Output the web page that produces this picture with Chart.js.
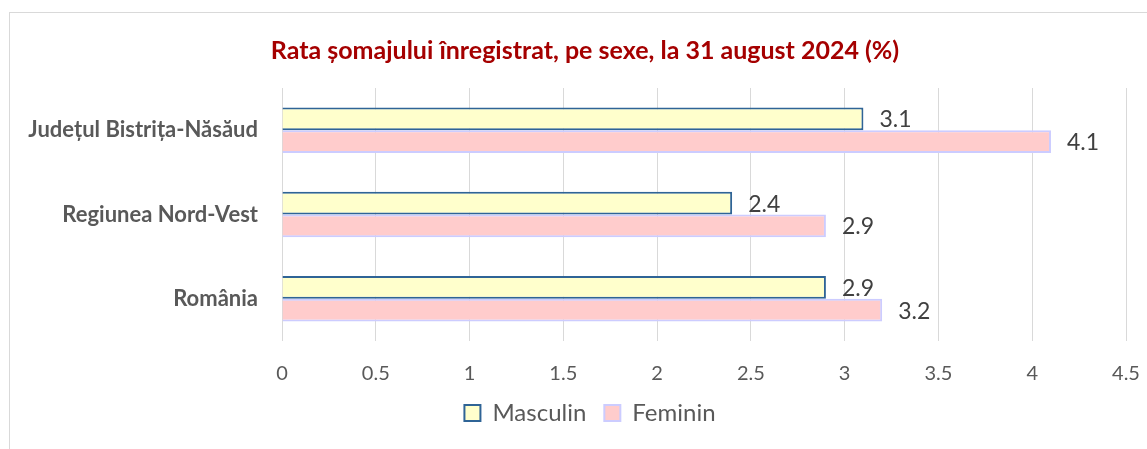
<!DOCTYPE html>
<html>
<head>
<meta charset="utf-8">
<style>
  html, body { margin: 0; padding: 0; background: #fff; overflow: hidden; width: 1147px; height: 449px; }
  .frame {
    position: absolute; left: 9px; top: 12px; width: 1200px; height: 500px;
    border: 1px solid #d9d9d9; box-sizing: border-box;
  }
  .chart-box { position: absolute; left: 0; top: 0; width: 1175px; height: 449px; }
</style>
</head>
<body>
<div class="frame"></div>
<div class="chart-box"><canvas id="chart"></canvas></div>

<script src="https://cdn.jsdelivr.net/npm/chart.js@4"></script>
<script>
var categories = ['Județul Bistrița-Năsăud', 'Regiunea Nord-Vest', 'România'];
var masculin = [3.1, 2.4, 2.9];
var feminin = [4.1, 2.9, 3.2];
var xTicks = ['0', '0.5', '1', '1.5', '2', '2.5', '3', '3.5', '4', '4.5'];

var FONT = 'Lato, "Open Sans", sans-serif';

// value labels at the end of each bar
var valueLabels = {
  id: 'valueLabels',
  afterDatasetsDraw: function(chart) {
    var ctx = chart.ctx;
    ctx.save();
    ctx.font = '23px ' + FONT;
    ctx.fillStyle = '#404040';
    ctx.textAlign = 'left';
    ctx.textBaseline = 'middle';
    chart.data.datasets.forEach(function(ds, i) {
      chart.getDatasetMeta(i).data.forEach(function(bar, j) {
        ctx.fillText(ds.data[j].toFixed(1), bar.x + 16, bar.y + 1);
      });
    });
    ctx.restore();
  }
};

// title and legend sit a bit right of the canvas centre in the original
var shiftBlocks = {
  id: 'shiftBlocks',
  afterLayout: function(chart) {
    if (chart.titleBlock) chart.titleBlock.left = 44;
    if (chart.legend) chart.legend.left = 54;
  }
};

new Chart(document.getElementById('chart'), {
  type: 'bar',
  data: {
    labels: categories,
    datasets: [
      { label: 'Masculin', data: masculin, backgroundColor: '#ffffcc', borderColor: '#2f6496', borderWidth: 2,
        categoryPercentage: 0.54, barPercentage: 1 },
      { label: 'Feminin', data: feminin, backgroundColor: '#ffcccc', borderColor: '#ccccff', borderWidth: 2,
        categoryPercentage: 0.54, barPercentage: 1 }
    ]
  },
  plugins: [valueLabels, shiftBlocks],
  options: {
    indexAxis: 'y',
    responsive: true, maintainAspectRatio: false, animation: false,
    layout: { padding: { left: 0, right: 49, top: 0, bottom: 14 } },
    plugins: {
      title: {
        display: true,
        text: 'Rata șomajului înregistrat, pe sexe, la 31 august 2024 (%)',
        color: '#a50000',
        font: { family: FONT, size: 25, weight: 'bold' },
        padding: { top: 36, bottom: 22 }
      },
      legend: {
        position: 'bottom',
        labels: { color: '#595959', font: { family: FONT, size: 24 }, boxWidth: 16, boxHeight: 16, padding: 18 }
      },
      tooltip: { enabled: false }
    },
    scales: {
      x: {
        min: 0, max: 4.5,
        ticks: { stepSize: 0.5, color: '#595959', font: { family: FONT, size: 20, lineHeight: 1 }, padding: 23,
          callback: function(v, i) { return xTicks[i]; } },
        grid: { color: '#d9d9d9', drawTicks: false },
        border: { display: false },
        afterFit: function(scale) { scale.height = 42; }
      },
      y: {
        grid: { display: false },
        border: { display: false },
        ticks: { color: '#595959', font: { family: FONT, size: 22, weight: 'bold' }, padding: 16 },
        afterFit: function(scale) { scale.width = 282; }
      }
    }
  }
});
</script>
</body>
</html>
